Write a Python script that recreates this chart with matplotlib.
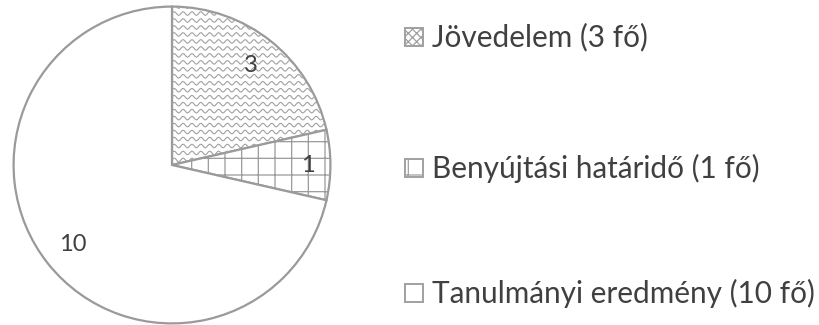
import numpy as np
import matplotlib.pyplot as plt
from matplotlib.patches import Rectangle

# data
labels = ['Jövedelem (3 fő)', 'Benyújtási határidő (1 fő)', 'Tanulmányi eredmény (10 fő)']
values = [3, 1, 10]

plt.rcParams['font.family'] = ['Lato', 'DejaVu Sans']
plt.rcParams['hatch.color'] = '#a8a8a8'
plt.rcParams['hatch.linewidth'] = 0.9
txt_col = '#404040'
edge_col = '#9a9a9a'

fig = plt.figure(figsize=(8.2, 3.25), dpi=100)
# pie axes: centre at (172,165) px, radius 160 px
ax = fig.add_axes([12/820, 0/325, 320/820, 320/325])

hatches = ['', '+', '']
wedges, texts = ax.pie(values, startangle=90, counterclock=False, radius=1,
                       colors=['white'] * 3,
                       wedgeprops=dict(edgecolor=edge_col, linewidth=1.6))
for w, h in zip(wedges, hatches):
    w.set_hatch(h)
ax.set_xlim(-1.01, 1.01)
ax.set_ylim(-1.01, 1.01)
ax.set_aspect('equal')
ax.axis('off')

# wavy fill for first slice
xs = np.linspace(-0.05, 1.05, 600)
for y0 in np.arange(-0.1, 1.05, 0.044):
    ln, = ax.plot(xs, y0 + 0.011 * np.sin(xs / 0.056 * 2 * np.pi),
                  color='#a0a0a0', lw=0.8, zorder=1.5)
    ln.set_clip_path(wedges[0])

# value labels inside slices
total = sum(values)
ang = 90.0
for v, d in zip(values, [0.8, 0.86, 0.8]):
    span = 360.0 * v / total
    mid = np.deg2rad(ang - span / 2)
    ax.text(d * np.cos(mid), d * np.sin(mid), str(v), ha='center', va='center',
            fontsize=17, color=txt_col, zorder=3)
    ang -= span

# legend
leg_y = [37, 168, 293]
for lab, y, h in zip(labels, leg_y, ['xxxx', '+', '']):
    r = Rectangle((405/820, 1 - (y + 9)/325), 18/820, 18/325, transform=fig.transFigure,
                  facecolor='white', edgecolor='#a0a0a0', lw=1.4, hatch=h)
    fig.add_artist(r)
    fig.text(432/820, 1 - y/325, lab, ha='left', va='center', fontsize=21.4, color=txt_col)

fig.savefig('out.png', dpi=100)
